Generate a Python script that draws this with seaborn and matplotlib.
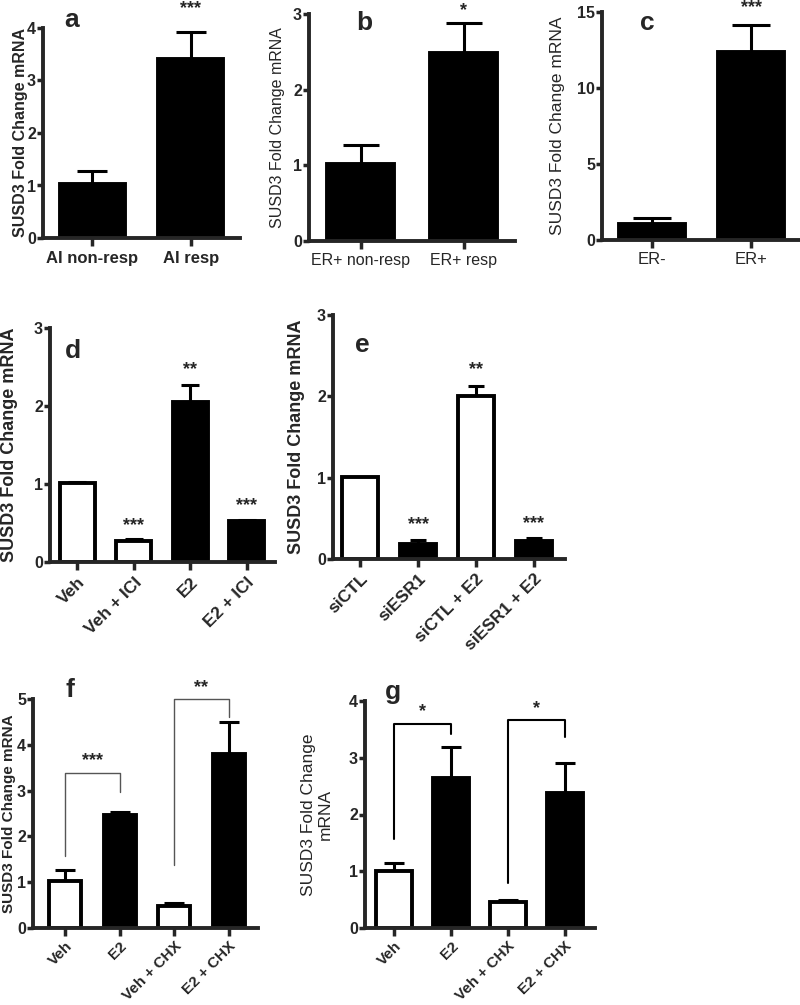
import matplotlib
matplotlib.use("Agg")
import matplotlib.pyplot as plt
import seaborn as sns
import numpy as np

sns.set_style("ticks")
plt.rcParams['font.family'] = ['Liberation Sans', 'DejaVu Sans']

W, H = 800, 1005

# panel data
a_labels = ["AI non-resp", "AI resp"]
a_vals = [1.03, 3.40]
a_err = [0.25, 0.53]

b_labels = ["ER+ non-resp", "ER+ resp"]
b_vals = [1.02, 2.49]
b_err = [0.25, 0.39]

c_labels = ["ER-", "ER+"]
c_vals = [1.08, 12.4]
c_err = [0.37, 1.73]

d_labels = ["Veh", "Veh + ICI", "E2", "E2 + ICI"]
d_vals = [1.01, 0.27, 2.05, 0.53]
d_err = [0.015, 0.025, 0.22, 0.008]
d_colors = ["white", "white", "black", "black"]

e_labels = ["siCTL", "siESR1", "siCTL + E2", "siESR1 + E2"]
e_vals = [1.01, 0.19, 2.01, 0.22]
e_err = [0.0, 0.04, 0.12, 0.04]
e_colors = ["white", "black", "white", "black"]

f_labels = ["Veh", "E2", "Veh + CHX", "E2 + CHX"]
f_vals = [1.02, 2.47, 0.48, 3.80]
f_err = [0.24, 0.07, 0.07, 0.69]
f_colors = ["white", "black", "white", "black"]

g_labels = ["Veh", "E2", "Veh + CHX", "E2 + CHX"]
g_vals = [1.01, 2.65, 0.46, 2.38]
g_err = [0.14, 0.54, 0.03, 0.53]
g_colors = ["white", "black", "white", "black"]

fig = plt.figure(figsize=(W / 100, H / 100), dpi=100)


def rect(l, r, t, b):
    return [l / W, 1 - b / H, (r - l) / W, (b - t) / H]


def panel(box, labels, vals, errs, colors, width, xlim, ylim, yticks, capsize):
    ax = fig.add_axes(rect(*box))
    sns.barplot(x=labels, y=vals, hue=labels, palette=dict(zip(labels, colors)),
                edgecolor="black", linewidth=2.8, width=width, errorbar=None,
                legend=False, ax=ax)
    # one-sided (upper) error bars
    x = np.arange(len(labels))
    top = np.array(vals) + np.array(errs)
    keep = np.array(errs) > 0
    ax.vlines(x[keep], np.array(vals)[keep], top[keep], color="black", lw=2.2, zorder=1)
    for xi, t in zip(x[keep], top[keep]):
        ax.plot([xi], [t], marker="_", markersize=2 * capsize, mew=2.2,
                color="black", zorder=1)
    ax.set_xlim(*xlim)
    ax.set_ylim(*ylim)
    ax.set_yticks(yticks)
    sns.despine(ax=ax)
    for s in ["left", "bottom"]:
        ax.spines[s].set_linewidth(2.8)
    ax.tick_params(axis="y", length=4, width=2.5, labelsize=11.5, pad=1)
    ax.tick_params(axis="x", length=6, width=2.5, pad=3)
    for t in ax.get_yticklabels():
        t.set_fontweight("bold")
    return ax


def ylab(ax, text, x, size, weight):
    ax.set_ylabel(text, fontsize=size, fontweight=weight)
    ax.yaxis.set_label_coords(x, 0.5)


def letter(ax, s, x, y):
    ax.text(x, y, s, transform=ax.transAxes, fontsize=19, fontweight="bold",
            ha="center", va="baseline")


def stars(ax, x, y, s):
    ax.text(x, y, s, ha="center", va="bottom", fontsize=13, fontweight="bold", clip_on=False)


# a
ax = panel((43, 240, 28, 238), a_labels, a_vals, a_err, ["black"] * 2, 0.66,
           (-0.5, 1.5), (0, 4), [0, 1, 2, 3, 4], 10.8)
ax.set_xticks(range(2), a_labels, fontsize=12, fontweight="bold")
ylab(ax, "SUSD3 Fold Change mRNA", -0.075, 11.5, "bold")
letter(ax, "a", 0.147, 1.005)
stars(ax, 1, 4.2, "***")

# b
ax = panel((309, 515, 14, 241), b_labels, b_vals, b_err, ["black"] * 2, 0.66,
           (-0.5, 1.5), (0, 3), [0, 1, 2, 3], 13.3)
ax.set_xticks(range(2), b_labels, fontsize=11.5)
ylab(ax, "SUSD3 Fold Change mRNA", -0.117, 11.5, "normal")
letter(ax, "b", 0.27, 0.93)
stars(ax, 1, 2.93, "*")

# c
ax = panel((602, 801, 12, 240), c_labels, c_vals, c_err, ["black"] * 2, 0.66,
           (-0.5, 1.5), (0, 15), [0, 5, 10, 15], 14)
ax.set_xticks(range(2), c_labels, fontsize=12)
ylab(ax, "SUSD3 Fold Change mRNA", -0.186, 12.5, "normal")
letter(ax, "c", 0.226, 0.92)
stars(ax, 1, 14.7, "***")

# d
ax = panel((50, 275, 328, 562), d_labels, d_vals, d_err, d_colors, 0.62,
           (-0.48, 3.5), (0, 3), [0, 1, 2, 3], 6.5)
ax.set_xticks(range(4), d_labels, fontsize=12.5, fontweight="bold",
              rotation=45, ha="right", rotation_mode="anchor")
ylab(ax, "SUSD3 Fold Change mRNA", -0.142, 13, "bold")
letter(ax, "d", 0.10, 0.87)
for i, h, s in [(1, 0.36, "***"), (2, 2.36, "**"), (3, 0.62, "***")]:
    stars(ax, i, h, s)

# e
ax = panel((333, 565, 315, 559), e_labels, e_vals, e_err, e_colors, 0.62,
           (-0.47, 3.54), (0, 3), [0, 1, 2, 3], 6)
ax.set_xticks(range(4), e_labels, fontsize=12.5, fontweight="bold",
              rotation=45, ha="right", rotation_mode="anchor")
ylab(ax, "SUSD3 Fold Change mRNA", -0.12, 13, "bold")
letter(ax, "e", 0.125, 0.85)
for i, h, s in [(1, 0.32, "***"), (2, 2.22, "**"), (3, 0.33, "***")]:
    stars(ax, i, h, s)

# f
ax = panel((33, 258, 699, 928), f_labels, f_vals, f_err, f_colors, 0.59,
           (-0.59, 3.54), (0, 5), [0, 1, 2, 3, 4, 5], 7.5)
ax.set_xticks(range(4), f_labels, fontsize=11, fontweight="bold",
              rotation=45, ha="right", rotation_mode="anchor")
ax.tick_params(axis="x", pad=2)
ylab(ax, "SUSD3 Fold Change mRNA", -0.075, 11, "bold")
letter(ax, "f", 0.165, 1.01)
ax.plot([0, 0, 1, 1], [1.57, 3.38, 3.38, 2.96], color="#555555", lw=1, clip_on=False)
ax.plot([2, 2, 3, 3], [1.37, 4.99, 4.99, 4.60], color="#555555", lw=1, clip_on=False)
stars(ax, 0.5, 3.48, "***")
stars(ax, 2.5, 5.06, "**")

# g
ax = panel((365, 595, 701, 928), g_labels, g_vals, g_err, g_colors, 0.63,
           (-0.51, 3.53), (0, 4), [0, 1, 2, 3, 4], 7.2)
ax.set_xticks(range(4), g_labels, fontsize=11, fontweight="bold",
              rotation=45, ha="right", rotation_mode="anchor")
ax.tick_params(axis="x", pad=2)
ylab(ax, "SUSD3 Fold Change\nmRNA", -0.139, 12.5, "normal")
letter(ax, "g", 0.12, 1.01)
ax.plot([0, 0, 1, 1], [1.56, 3.60, 3.60, 3.41], color="black", lw=1.5, clip_on=False)
ax.plot([2, 2, 3, 3], [0.79, 3.66, 3.66, 3.37], color="black", lw=1.5, clip_on=False)
stars(ax, 0.5, 3.66, "*")
stars(ax, 2.5, 3.72, "*")

fig.savefig("out.png", dpi=100)
